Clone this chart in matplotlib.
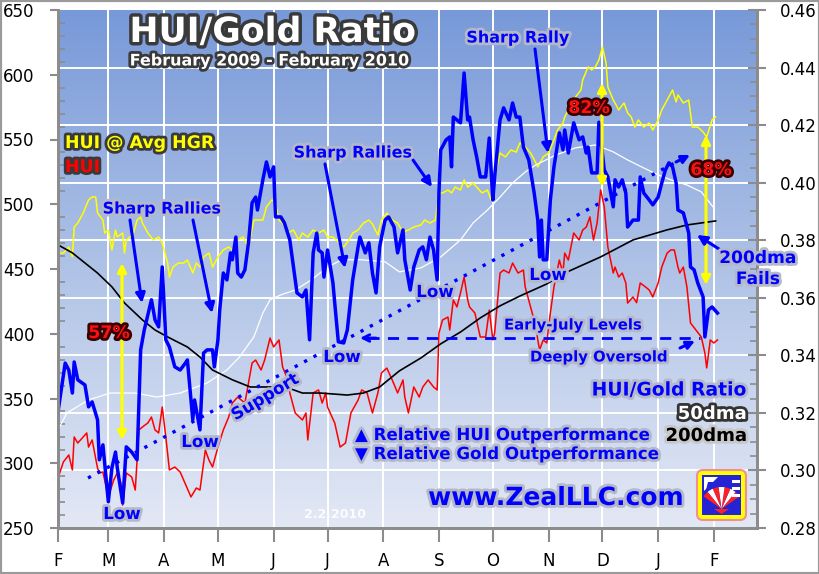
import numpy as np
import matplotlib
matplotlib.use('Agg')
import matplotlib.pyplot as plt
import matplotlib.dates as mdates
import matplotlib.patheffects as pe
from matplotlib.patches import FancyBboxPatch, FancyArrowPatch, Rectangle, Wedge, Polygon
from matplotlib.lines import Line2D
from matplotlib.ticker import MultipleLocator, FuncFormatter

START = np.datetime64('2009-02-01')

# HUI/Gold ratio (right axis), days counted from START
blue_days = [
    0, 4, 6, 8, 9, 11, 15, 17, 19, 22,
    23, 25, 28, 30, 32, 33, 36, 38, 41, 44,
    46, 48, 52, 54, 56, 58, 60, 62, 65, 68,
    71, 72, 75, 76, 79, 81, 83, 86, 87, 89,
    90, 92, 94, 96, 97, 99, 100, 102, 104, 106,
    108, 110, 111, 114, 116, 118, 120, 121, 124, 126,
    129, 133, 136, 138, 140, 142, 144, 145, 147, 148,
    150, 153, 154, 156, 159, 161, 164, 167, 168, 171,
    173, 175, 177, 179, 182, 184, 187, 189, 192, 193,
    196, 198, 201, 203, 205, 207, 209, 211, 212, 213,
    216, 218, 219, 220, 222, 224, 226, 228, 229, 231,
    233, 235, 238, 240, 242, 243, 246, 248, 251, 253,
    255, 257, 259, 262, 265, 267, 268, 269, 270, 272,
    274, 276, 279, 281, 282, 284, 287, 290, 292, 294,
    295, 297, 300, 301, 304, 306, 309, 310, 312, 314,
    316, 317, 320, 323, 324, 326, 329, 331, 334, 336,
    338, 340, 342, 344, 345, 348, 351, 352, 354, 356,
    359, 360, 362, 364, 367]
blue_ratio = [
    0.3204, 0.3373, 0.3349, 0.3269, 0.3377, 0.3315, 0.3297, 0.3221, 0.3238, 0.3176,
    0.3037, 0.3089, 0.2891, 0.3009, 0.3064, 0.3009, 0.2887, 0.3082, 0.3064, 0.3037,
    0.3419, 0.3488, 0.3593, 0.3523, 0.3499, 0.3707, 0.3454, 0.3429, 0.3360, 0.3349,
    0.3374, 0.3384, 0.3176, 0.3245, 0.3141, 0.3408, 0.3419, 0.3419, 0.3360, 0.3454,
    0.3558, 0.3686, 0.3662, 0.3756, 0.3732, 0.3811, 0.3686, 0.3672, 0.3697, 0.3791,
    0.3930, 0.3950, 0.3905, 0.4010, 0.4072, 0.4020, 0.4055, 0.3881, 0.3881, 0.3860,
    0.3801, 0.3617, 0.3603, 0.3627, 0.3454, 0.3756, 0.3825, 0.3766, 0.3756, 0.3672,
    0.3766, 0.3652, 0.3582, 0.3447, 0.3443, 0.3488, 0.3662, 0.3777, 0.3811, 0.3756,
    0.3791, 0.3686, 0.3617, 0.3777, 0.3870, 0.3881, 0.3846, 0.3756, 0.3836, 0.3732,
    0.3627, 0.3707, 0.3766, 0.3777, 0.3732, 0.3811, 0.3766, 0.3662, 0.3964, 0.4114,
    0.4149, 0.4159, 0.4055, 0.4228, 0.4218, 0.4208, 0.4381, 0.4218, 0.4228, 0.4149,
    0.4089, 0.4020, 0.4020, 0.4155, 0.3940, 0.4020, 0.4218, 0.4260, 0.4218, 0.4277,
    0.4228, 0.4228, 0.4124, 0.4079, 0.3964, 0.3870, 0.3742, 0.3870, 0.3732, 0.3732,
    0.3940, 0.4055, 0.4173, 0.4114, 0.4183, 0.4103, 0.4208, 0.4149, 0.4159, 0.4103,
    0.4124, 0.4034, 0.4034, 0.4210, 0.4044, 0.4020, 0.3916, 0.4010, 0.3985, 0.4010,
    0.3964, 0.3846, 0.3870, 0.3870, 0.4020, 0.3964, 0.3940, 0.3923, 0.3950, 0.3999,
    0.4044, 0.4069, 0.4055, 0.3999, 0.3905, 0.3895, 0.3825, 0.3707, 0.3697, 0.3652,
    0.3603, 0.3464, 0.3558, 0.3568, 0.3547]

# HUI (left axis)
red_days = [
    0, 3, 6, 8, 9, 11, 14, 16, 17, 19,
    22, 23, 25, 28, 31, 33, 35, 36, 38, 41,
    43, 45, 47, 50, 52, 54, 56, 58, 60, 62,
    65, 68, 74, 77, 79, 82, 84, 86, 89, 92,
    95, 97, 100, 104, 108, 110, 113, 115, 118, 120,
    123, 125, 128, 129, 132, 136, 138, 139, 142, 145,
    147, 149, 150, 154, 157, 160, 163, 167, 169, 172,
    175, 178, 180, 183, 186, 189, 192, 193, 195, 198,
    201, 203, 206, 209, 211, 212, 214, 217, 218, 220,
    222, 224, 226, 228, 229, 232, 235, 238, 240, 242,
    243, 246, 248, 251, 253, 256, 259, 260, 263, 266,
    267, 268, 270, 272, 274, 276, 279, 281, 282, 284,
    287, 290, 292, 294, 296, 298, 300, 302, 304, 306,
    309, 310, 312, 314, 316, 317, 320, 322, 324, 327,
    329, 331, 334, 336, 339, 341, 343, 345, 346, 348,
    350, 352, 355, 358, 360, 361, 363, 365, 367]
red_hui = [
    288.6, 301, 306.4, 294.8, 320.3, 315.6, 320.3, 323.4, 312.5, 318,
    296.3, 292.5, 293.2, 274, 287, 292.5, 284.7, 267.7, 292.5, 289.4,
    279.3, 325.7, 328, 331.1, 335.7, 325.7, 323.4, 343.4, 320.3, 294.8,
    297.1, 293.2, 274, 280.9, 279.3, 310.2, 302.5, 297.1, 312.5, 325.7,
    335.7, 346.5, 351.1, 346.5, 377.4, 379.7, 372, 379.7, 396.7, 389.8,
    395.2, 374.3, 364.3, 354.3, 338.8, 333.4, 338.8, 318, 354.3, 356.6,
    346.5, 354.3, 343.4, 331.1, 312.5, 315.6, 338.8, 348.8, 356.6, 354.3,
    338.8, 354.3, 369.7, 373.5, 364.3, 354.3, 364.3, 351.1, 338.8, 358.9,
    351.1, 358.9, 364.3, 358.9, 356.6, 400.6, 410.6, 412.9, 402.9, 426.1,
    420.7, 431.5, 443.8, 426.1, 420.7, 416, 397.5, 397.5, 418.3, 395.2,
    400.6, 446.9, 449.2, 446.9, 454.6, 446.9, 449.2, 436.1, 420.7, 405.2,
    395.2, 387.4, 395.2, 392.9, 416, 436.1, 456.9, 446.9, 462.3, 456.9,
    477.8, 472.4, 480.1, 482.4, 490.2, 472.4, 485.5, 511, 497.9, 467,
    446.9, 451.5, 443.8, 446.9, 439.2, 423.7, 428.4, 424, 439.2, 436.1,
    433.8, 428.4, 439.2, 451.5, 462.3, 464.7, 464.7, 451.5, 446.9, 451.5,
    436.1, 408.3, 402.9, 397.5, 385.1, 373.6, 395.2, 392.9, 395.2]

# HUI @ average HUI/gold ratio (left axis)
yellow_days = [
    0, 3, 6, 8, 9, 11, 14, 17, 19, 21,
    22, 25, 26, 28, 30, 32, 33, 36, 37, 38,
    40, 42, 44, 46, 47, 50, 53, 56, 58, 61,
    62, 64, 67, 70, 72, 75, 77, 79, 81, 84,
    86, 89, 92, 95, 97, 100, 103, 106, 109, 111,
    114, 116, 119, 121, 123, 125, 128, 131, 134, 136,
    139, 142, 145, 148, 150, 153, 156, 159, 162, 164,
    167, 170, 173, 175, 178, 180, 183, 186, 189, 192,
    195, 198, 202, 204, 207, 210, 212, 214, 217, 219,
    221, 224, 226, 228, 231, 233, 236, 239, 241, 243,
    246, 249, 252, 255, 257, 260, 263, 266, 267, 270,
    273, 276, 278, 281, 282, 285, 288, 291, 292, 295,
    297, 299, 301, 303, 305, 306, 309, 310, 312, 315,
    317, 319, 321, 323, 326, 329, 331, 334, 336, 339,
    342, 344, 345, 348, 351, 353, 356, 359, 361, 364,
    366]
yellow_hui = [
    462.3, 462.3, 467, 459.3, 482.4, 485.5, 493.2, 503.3, 505.6, 505.6,
    493.2, 487.8, 477.8, 480.1, 464.7, 480.1, 474.7, 477.8, 462.3, 472.4,
    474.7, 477.8, 487.8, 490.2, 485.5, 477.8, 472.4, 474.7, 470.1, 454.6,
    443.8, 451.5, 454.6, 454.6, 456.9, 446.9, 454.6, 451.5, 459.3, 462.3,
    451.5, 459.3, 464.7, 467, 464.7, 472.4, 474.7, 467, 487.8, 487.8,
    487.8, 497.9, 503.3, 501, 487.8, 485.5, 477.8, 480.1, 472.4, 477.8,
    474.7, 480.1, 477.8, 480.1, 474.7, 474.7, 470.8, 467, 472.4, 477.8,
    480.1, 485.5, 487.8, 484.7, 476.2, 487.8, 493.2, 487.8, 485.5, 478.6,
    480.1, 482.4, 484, 487.8, 485.5, 487.8, 508.7, 508.7, 511, 508.7,
    513.3, 511, 518.7, 513.3, 516.4, 513.3, 508.7, 511, 503.3, 521,
    539.6, 536.5, 541.9, 540.3, 547.3, 544.2, 539.6, 531.8, 528.8, 536.5,
    539.6, 549.6, 557.3, 562.7, 567.4, 575.1, 582.8, 588.2, 596, 606,
    603.7, 606, 611.4, 621.4, 609.1, 590.5, 580.5, 578.2, 572.8, 578.2,
    570.5, 567.4, 559.6, 565.1, 559.6, 562.7, 557.3, 565.1, 572.8, 580.5,
    588.2, 579, 584.4, 578.2, 580.5, 559.6, 559.6, 555.8, 551.9, 565.1,
    567.4]

# 50dma and 200dma of the ratio (right axis)
dma50_days = [0, 5, 17, 29, 43, 55, 68, 83, 94, 101, 109, 114, 118, 124, 132, 141,
              150, 158, 169, 182, 190, 202, 213, 224, 231, 239, 246, 253, 260, 266,
              277, 288, 299, 309, 317, 326, 334, 341, 350, 358, 365]
dma50_ratio = [0.3141, 0.3200, 0.3245, 0.3269, 0.3269, 0.3255, 0.3269, 0.3304, 0.3349,
               0.3394, 0.3464, 0.3547, 0.3593, 0.3610, 0.3627, 0.3662, 0.3707, 0.3732,
               0.3732, 0.3725, 0.3690, 0.3704, 0.3742, 0.3801, 0.3860, 0.3905, 0.3950,
               0.3999, 0.4037, 0.4062, 0.4096, 0.4121, 0.4131, 0.4107, 0.4079, 0.4051,
               0.4027, 0.4010, 0.3992, 0.3968, 0.3912]
dma200_days = [0, 8, 15, 22, 30, 37, 47, 54, 61, 72, 79, 86, 97, 107, 118, 128, 136,
               146, 161, 170, 179, 190, 202, 213, 224, 235, 246, 257, 272, 282, 302,
               320, 339, 350, 366]
dma200_ratio = [0.3784, 0.3756, 0.3721, 0.3686, 0.3638, 0.3582, 0.3523, 0.3488, 0.3464,
                0.3429, 0.3394, 0.3349, 0.3315, 0.3290, 0.3290, 0.3287, 0.3269, 0.3269,
                0.3262, 0.3269, 0.3290, 0.3346, 0.3391, 0.3440, 0.3481, 0.3530, 0.3572,
                0.3606, 0.3648, 0.3686, 0.3742, 0.3801, 0.3836, 0.3853, 0.3867]


def to_dates(days):
    return START + np.array(days).astype('timedelta64[D]')


def hui_of(r):
    # right-axis ratio value -> left-axis HUI position
    return 250 + (r - 0.28) / 0.18 * 400


W, H = 820, 574


def fp(x, y):
    return (x / W, 1 - y / H)


fig = plt.figure(figsize=(8.2, 5.74), dpi=100)
ax = fig.add_axes([58 / W, 46 / H, 699 / W, 518 / H])
ax2 = ax.twinx()

# gradient background
t = np.linspace(0, 1, 256)
stops_t = [0, 0.55, 1]
stops_c = np.array([[0.47, 0.60, 0.85], [0.71, 0.78, 0.91], [0.89, 0.91, 0.96]])
img = np.stack([np.interp(t, stops_t, stops_c[:, k]) for k in range(3)], axis=1)[:, None, :]
ax.imshow(img, extent=[0, 1, 0, 1], transform=ax.transAxes, aspect='auto',
          zorder=0, interpolation='bilinear')

ax.plot(to_dates(yellow_days), yellow_hui, color='#ffff00', lw=1.1, zorder=3)
ax.plot(to_dates(red_days), red_hui, color='#ff0000', lw=1.1, zorder=3)
ax2.plot(to_dates(dma50_days), dma50_ratio, color='white', lw=0.9)
ax2.plot(to_dates(dma200_days), dma200_ratio, color='black', lw=1.2)
ax2.plot(to_dates(blue_days), blue_ratio, color='#0000ff', lw=2.5)

ax.set_xlim(START, START + np.timedelta64(389, 'D'))
ax.set_ylim(250, 650)
ax2.set_ylim(0.28, 0.46)

# grid: months and right-axis levels
ax.set_axisbelow(True)
ax.xaxis.set_major_locator(mdates.MonthLocator())
ax.xaxis.set_major_formatter(FuncFormatter(lambda v, p: mdates.num2date(v).strftime('%b')[0]))
ax.grid(axis='x', color='white', lw=1.4)
for r in np.arange(0.30, 0.455, 0.02):
    ax.axhline(hui_of(r), color='white', lw=1.4, zorder=1)

ax.yaxis.set_major_locator(MultipleLocator(50))
ax.yaxis.set_minor_locator(MultipleLocator(10))
ax2.yaxis.set_major_locator(MultipleLocator(0.02))
ax2.yaxis.set_minor_locator(MultipleLocator(0.005))
ax2.yaxis.set_major_formatter(FuncFormatter(lambda v, p: '%.2f' % v))

gray = '#8c8c8c'
for a in (ax, ax2):
    for s in a.spines.values():
        s.set_color(gray)
        s.set_linewidth(2)
    a.spines['top'].set_visible(False)
ax.tick_params(axis='y', which='major', direction='out', length=6, width=1.5,
               color=gray, labelsize=12, pad=11)
ax.tick_params(axis='y', which='minor', direction='in', length=5, width=1.2, color=gray)
ax.tick_params(axis='x', which='major', direction='out', length=10, width=1.5,
               color=gray, labelsize=12, pad=7)
ax2.tick_params(axis='y', which='major', direction='inout', length=13, width=1.5,
                color=gray, labelsize=12, pad=10)
ax2.tick_params(axis='y', which='minor', direction='in', length=5, width=1.2, color=gray)

blue = '#0000ff'
glow = [pe.withStroke(linewidth=4, foreground='#b4b8c8')]


def label(x, y, s, size, color=blue, effects=glow, ha='center', **kw):
    fig.text(x / W, 1 - y / H, s, fontsize=size, fontweight='bold', color=color,
             ha=ha, va='center', path_effects=effects, **kw)


def arrow(tail, head, color=blue, style='-|>', lw=2.2, ms=14, ls='-'):
    fig.add_artist(FancyArrowPatch(fp(*tail), fp(*head), transform=fig.transFigure,
                                   arrowstyle=style, color=color, lw=lw,
                                   mutation_scale=ms, linestyle=ls,
                                   shrinkA=0, shrinkB=0))


dark = [pe.withStroke(linewidth=4, foreground='#3a3a3a')]
label(273, 32, 'HUI/Gold Ratio', 25, 'white', [pe.withStroke(linewidth=5, foreground='#3a3a3a')])
label(270, 61, 'February 2009 - February 2010', 11.5, 'white', dark)
label(65, 143, 'HUI @ Avg HGR', 12.5, '#ffff00', dark, ha='left')
label(65, 167, 'HUI', 12.5, '#ff0000', dark, ha='left')

# trend line and early-July level
fig.add_artist(Line2D([88 / W, 680 / W], [1 - 478 / H, 1 - 160 / H], color=blue, lw=2.4,
                      linestyle=(0, (1, 2.2)), transform=fig.transFigure))
arrow((676, 162), (690, 155), ms=12)
fig.add_artist(Line2D([368 / W, 700 / W], [1 - 338 / H, 1 - 338 / H], color=blue, lw=2,
                      linestyle=(0, (4, 3)), transform=fig.transFigure))
arrow((376, 338), (360, 338), style='->', ms=12, lw=2)

# yellow spans
arrow((122, 440), (122, 263), color='#ffff00', style='<|-|>', lw=2.2, ms=13)
arrow((602, 187), (602, 83), color='#ffff00', style='<|-|>', lw=2.2, ms=13)
arrow((706, 285), (706, 135), color='#ffff00', style='<|-|>', lw=2.2, ms=13)
pct = [pe.withStroke(linewidth=4, foreground='#3a0000')]
label(109, 333, '57%', 12.5, '#ff1010', pct)
label(589, 108, '82%', 12.5, '#ff1010', pct)
label(711, 170, '68%', 12.5, '#ff1010', pct)

# blue callouts
label(162, 209, 'Sharp Rallies', 11.5)
arrow((130, 220), (142, 303))
arrow((193, 220), (212, 313))
label(353, 153, 'Sharp Rallies', 11.5)
arrow((325, 164), (345, 268))
arrow((413, 160), (432, 187))
label(518, 38, 'Sharp Rally', 11.5)
arrow((535, 49), (548, 153))
for (lx, ly) in [(122, 514), (200, 442), (342, 357), (435, 292), (548, 275)]:
    label(lx, ly, 'Low', 12)
label(265, 397, 'Support', 12, rotation=31)
label(573, 325, 'Early-July Levels', 10.7)
label(599, 357, 'Deeply Oversold', 10.7)
arrow((680, 348), (695, 341), ms=12)
label(758, 258, '200dma', 12.3)
label(758, 279, 'Fails', 12.3)
arrow((719, 249), (697, 235))
label(669, 390, 'HUI/Gold Ratio', 13.5)
label(712, 414, '50dma', 13, 'white', [pe.withStroke(linewidth=4, foreground='#333333')])
label(706, 436, '200dma', 13, 'black', [pe.withStroke(linewidth=4, foreground='#c8c8c8')])
label(355, 435, '\u25B2 Relative HUI Outperformance', 12, ha='left')
label(355, 454, '\u25BC Relative Gold Outperformance', 12, ha='left')
label(556, 498, 'www.ZealLLC.com', 18)
fig.text(335 / W, 1 - 515 / H, '2.2.2010', fontsize=9, fontweight='bold',
         color='white', alpha=0.9, ha='center', va='center')

# logo
lg = fig.add_axes([694 / W, 1 - 523 / H, 55 / W, 56 / H])
lg.set_xlim(0, 55)
lg.set_ylim(0, 56)
lg.axis('off')
lg.add_patch(FancyBboxPatch((3, 3), 49, 50, boxstyle='round,pad=0,rounding_size=6',
                            fc='#ffff00', ec='#f09090', lw=1.5))
lg.add_patch(Rectangle((8, 8), 39, 40, fc='#2424d4'))
lg.add_patch(Polygon([(10, 46), (24, 46), (10, 32)], fc='white'))
lg.add_patch(Polygon([(14, 41), (20, 41), (12, 33)], fc='#2424d4'))
for k in range(7):
    a0 = 35 + k * 15.7
    lg.add_patch(Wedge((27.5, 14), 22, a0, a0 + 15.7,
                       fc='#ff2020' if k % 2 == 0 else 'white', ec='none'))
lg.add_patch(Polygon([(20, 14), (35, 14), (27.5, 9)], fc='#ff2020'))
for yy in (40, 33, 26):
    lg.add_patch(Rectangle((38, yy), 8, 3, fc='white'))

fig.patches.append(Rectangle((0, 0), 1, 1, transform=fig.transFigure, fill=False,
                             ec='#9a9a9a', lw=3))

fig.savefig('out.png', dpi=100, facecolor='white')
